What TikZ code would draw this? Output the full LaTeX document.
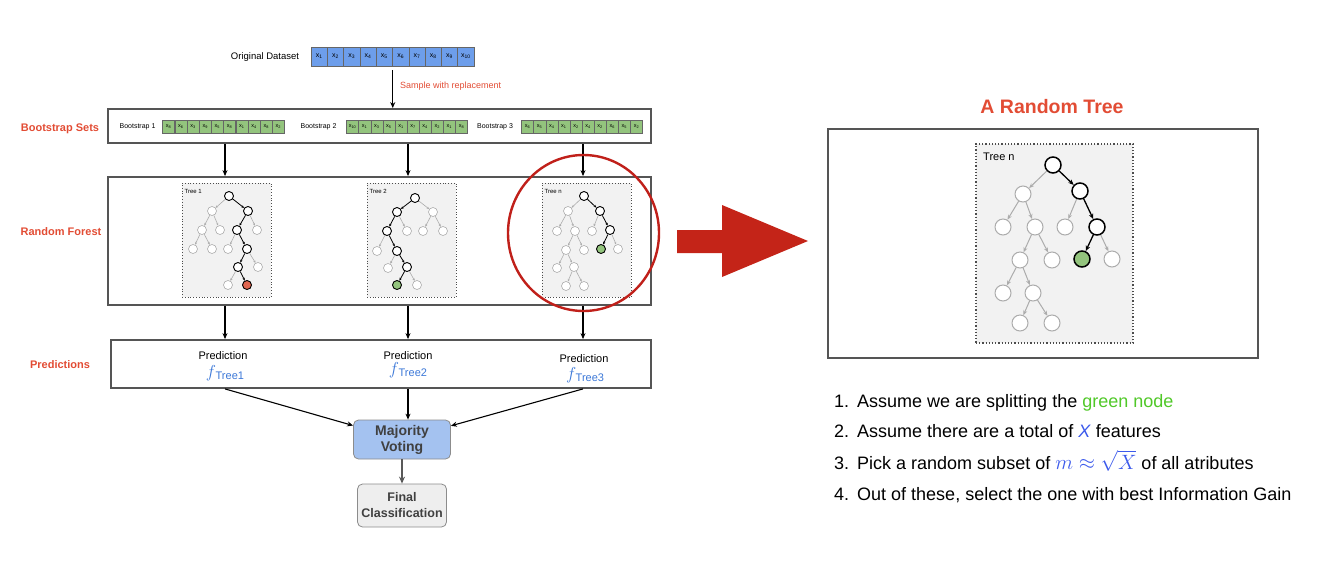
\documentclass[tikz,border=0pt]{standalone}
\usepackage{fontspec}
\setmainfont{Liberation Sans}
\usetikzlibrary{arrows.meta,shapes.geometric,calc}
\definecolor{cellblue}{RGB}{109,158,235}
\definecolor{cellgreen}{RGB}{147,196,125}
\definecolor{labred}{RGB}{226,76,52}
\definecolor{bigred}{RGB}{196,36,24}
\definecolor{ellred}{RGB}{192,32,26}
\definecolor{voteblue}{RGB}{164,194,240}
\definecolor{finalgray}{RGB}{238,238,238}
\definecolor{treebg}{RGB}{242,242,242}
\definecolor{nodegray}{RGB}{172,172,172}
\definecolor{predblue}{RGB}{60,120,216}
\definecolor{greentxt}{RGB}{80,200,40}
\definecolor{mathblue}{RGB}{60,90,235}
\definecolor{boxgray}{RGB}{85,85,85}
\definecolor{redfill}{RGB}{224,102,80}
\definecolor{greenfill}{RGB}{147,196,125}
\newcommand\myfs[1]{\fontsize{#1}{#1}\selectfont}
\begin{document}
\begin{tikzpicture}[x=1pt,y=-1pt,
  mainbox/.style={draw=boxgray, line width=1.8, fill=white, inner sep=0},
  treebox/.style={draw=black!70, dotted, line width=0.8, fill=treebg, inner sep=0},
  bluecell/.style={draw=black!60, line width=0.5, fill=cellblue, minimum width=16.3, minimum height=19, inner sep=0, font=\myfs{7}},
  greencell/.style={draw=black!60, line width=0.4, fill=cellgreen, minimum width=12.1, minimum height=13, inner sep=0, font=\myfs{5.5}},
  arr/.style={draw=black, line width=1.1, -{Stealth[length=6,width=5]}},
  sn/.style={circle, draw=nodegray, fill=white, line width=0.6, minimum size=9, inner sep=0},
  snb/.style={sn, draw=black, line width=0.9},
  bn/.style={circle, draw=nodegray, fill=white, line width=1, minimum size=16, inner sep=0},
  bnb/.style={bn, draw=black, line width=1.5},
  gs/.style={draw=nodegray, line width=0.6, -{Stealth[length=2.6,width=2.2]}},
  bs/.style={draw=black, line width=0.8, -{Stealth[length=2.8,width=2.4]}},
  gb/.style={draw=nodegray, line width=1, -{Stealth[length=5,width=4]}},
  bb/.style={draw=black, line width=1.3, -{Stealth[length=5.5,width=4.5]}},
  sidelab/.style={text=labred, font=\bfseries\myfs{11}, inner sep=0},
  predtxt/.style={font=\myfs{11}, inner sep=0},
  ftxt/.style={text=predblue, font=\myfs{11}, inner sep=0},
  li/.style={font=\myfs{18}, inner sep=0}
]
\useasboundingbox (0,0) rectangle (1328,563);

% ---------- original dataset ----------
\node[font=\myfs{9.5}, inner sep=0] (odlab) at (265,57) {Original Dataset};
\foreach \k in {1,...,10}
  \node[bluecell] (o\k) at ({311+16.3*(\k-0.5)},56.5) {x\textsubscript{\k}};

% ---------- boxes ----------
\node[mainbox, minimum width=543, minimum height=34] (boot) at (379.5,126) {};
\node[mainbox, minimum width=543, minimum height=128] (forest) at (379.5,241) {};
\node[mainbox, minimum width=540, minimum height=48] (preds) at (381,364) {};

\draw[arr] ($(o5.south east)+(0,4)$) -- (boot.north -| o5.south east);
\node[anchor=west, text=labred, font=\myfs{9}, inner sep=0] (swr) at (400,86) {Sample with replacement};

% bootstrap sets
\node[font=\myfs{7}, inner sep=0] (bl1) at (137.5,127) {Bootstrap 1};
\node[font=\myfs{7}, inner sep=0] (bl2) at (318.5,127) {Bootstrap 2};
\node[font=\myfs{7}, inner sep=0] (bl3) at (495,127) {Bootstrap 3};
\foreach \v [count=\k] in {8,6,3,9,5,8,1,4,8,2}
  \node[greencell] (ba\k) at ({162.5+12.2*(\k-0.5)},127) {x\textsubscript{\v}};
\foreach \v [count=\k] in {10,1,3,5,1,7,4,2,1,8}
  \node[greencell] (bb\k) at ({346.5+12.1*(\k-0.5)},127) {x\textsubscript{\v}};
\foreach \v [count=\k] in {6,5,4,1,2,4,2,6,5,2}
  \node[greencell] (bc\k) at ({521.5+12.1*(\k-0.5)},127) {x\textsubscript{\v}};

% side labels
\node[sidelab] (lb1) at (60,129) {Bootstrap Sets};
\node[sidelab] (lb2) at (61,232) {Random Forest};
\node[sidelab] (lb3) at (60,365) {Predictions};

% column coordinates
\coordinate (c1) at (225,0);
\coordinate (c2) at (408,0);
\coordinate (c3) at (583,0);
\foreach \c in {c1,c2,c3} {
  \draw[arr] (boot.south -| \c) -- (forest.north -| \c);
  \draw[arr] (forest.south -| \c) -- (preds.north -| \c);
}

% tree boxes
\node[treebox, minimum width=89, minimum height=114] (tb1) at (226.5,240) {};
\node[treebox, minimum width=89, minimum height=114] (tb2) at (411.5,240) {};
\node[treebox, minimum width=89, minimum height=114] (tb3) at (586.5,240) {};
\node[anchor=west, font=\myfs{6}, inner sep=0] (tl1) at (184.5,191.5) {Tree 1};
\node[anchor=west, font=\myfs{6}, inner sep=0] (tl2) at (369.5,191.5) {Tree 2};
\node[anchor=west, font=\myfs{6}, inner sep=0] (tl3) at (544.5,191.5) {Tree n};

% ---- Tree 1 ----
\node[snb] (t1r) at (229,196) {};
\node[sn]  (t1a) at (212,211) {};
\node[snb] (t1b) at (248,211) {};
\node[sn]  (t1aa) at (202,230) {};
\node[sn]  (t1ab) at (220,230) {};
\node[snb] (t1ba) at (237,230) {};
\node[sn]  (t1bb) at (257,230) {};
\node[sn]  (t1aaa) at (193,249) {};
\node[sn]  (t1aab) at (212,249) {};
\node[sn]  (t1baa) at (228,249) {};
\node[snb] (t1bab) at (247,249) {};
\node[snb] (t1baba) at (238,267) {};
\node[sn]  (t1babb) at (258,267) {};
\node[sn]  (t1babaa) at (228,285) {};
\node[snb, fill=redfill] (t1babab) at (247,285) {};
\foreach \a/\b in {t1r/t1a,t1a/t1aa,t1a/t1ab,t1b/t1bb,t1aa/t1aaa,t1aa/t1aab,t1ba/t1baa,t1bab/t1babb,t1baba/t1babaa}
  \draw[gs] (\a) -- (\b);
\foreach \a/\b in {t1r/t1b,t1b/t1ba,t1ba/t1bab,t1bab/t1baba,t1baba/t1babab}
  \draw[bs] (\a) -- (\b);

% ---- Tree 2 ----
\node[snb] (t2r) at (415,198) {};
\node[snb] (t2a) at (397,212) {};
\node[sn]  (t2b) at (433,212) {};
\node[snb] (t2aa) at (387,231) {};
\node[sn]  (t2ab) at (407,231) {};
\node[sn]  (t2ba) at (423,231) {};
\node[sn]  (t2bb) at (443,231) {};
\node[sn]  (t2aaa) at (377,251) {};
\node[snb] (t2aab) at (397,251) {};
\node[sn]  (t2aaba) at (388,268) {};
\node[snb] (t2aabb) at (407,267) {};
\node[snb, fill=greenfill] (t2aabba) at (397,285) {};
\node[sn]  (t2aabbb) at (417,285) {};
\foreach \a/\b in {t2r/t2b,t2a/t2ab,t2b/t2ba,t2b/t2bb,t2aa/t2aaa,t2aab/t2aaba,t2aabb/t2aabbb}
  \draw[gs] (\a) -- (\b);
\foreach \a/\b in {t2r/t2a,t2a/t2aa,t2aa/t2aab,t2aab/t2aabb,t2aabb/t2aabba}
  \draw[bs] (\a) -- (\b);

% ---- Tree n (small) ----
\node[snb] (t3r) at (584,196) {};
\node[sn]  (t3a) at (568,211) {};
\node[snb] (t3b) at (600,211) {};
\node[sn]  (t3aa) at (557,231) {};
\node[sn]  (t3ab) at (575,231) {};
\node[sn]  (t3ba) at (592,231) {};
\node[snb] (t3bb) at (610,230) {};
\node[sn]  (t3aba) at (566,250) {};
\node[sn]  (t3abb) at (584,250) {};
\node[snb, fill=greenfill] (t3bba) at (601,249) {};
\node[sn]  (t3bbb) at (618,249) {};
\node[sn]  (t3abaa) at (557,268) {};
\node[sn]  (t3abab) at (574,267) {};
\node[sn]  (t3ababa) at (566,286) {};
\node[sn]  (t3ababb) at (584,286) {};
\foreach \a/\b in {t3r/t3a,t3a/t3aa,t3a/t3ab,t3b/t3ba,t3ab/t3aba,t3ab/t3abb,t3bb/t3bbb,t3aba/t3abaa,t3aba/t3abab,t3abab/t3ababa,t3abab/t3ababb}
  \draw[gs] (\a) -- (\b);
\foreach \a/\b in {t3r/t3b,t3b/t3bb,t3bb/t3bba}
  \draw[bs] (\a) -- (\b);

% red ellipse
\node[ellipse, draw=ellred, line width=2.4, minimum width=151, minimum height=156, inner sep=0] (ell) at (583.5,233) {};

% predictions
\node[predtxt] (p1) at (223,356) {Prediction};
\node[ftxt] (f1) at (225,373) {{\myfs{17}$f$}\kern-0.5pt\raisebox{-2pt}{Tree1}};
\node[predtxt] (p2) at (408,356) {Prediction};
\node[ftxt] (f2) at (408,370) {{\myfs{17}$f$}\kern-0.5pt\raisebox{-2pt}{Tree2}};
\node[predtxt] (p3) at (584,359) {Prediction};
\node[ftxt] (f3) at (585,375) {{\myfs{17}$f$}\kern-0.5pt\raisebox{-2pt}{Tree3}};

% voting
\node[draw=black!45, line width=0.8, fill=voteblue, rounded corners=5, minimum width=97, minimum height=39, align=center, text=black!75, font=\bfseries\fontsize{14}{16}\selectfont, inner sep=0] (vote) at (402,439.5) {Majority\\Voting};
\node[draw=black!45, line width=0.8, fill=finalgray, rounded corners=5, minimum width=89, minimum height=43, align=center, text=black!75, font=\bfseries\fontsize{12.5}{16}\selectfont, inner sep=0] (final) at (402,505.5) {Final\\Classification};
\draw[arr] (preds.south -| c1) -- (vote);
\draw[arr] (preds.south -| c3) -- (vote);
\draw[arr] (preds.south -| c2) -- (vote.north -| c2);
\draw[draw=black!65, line width=2, -{Stealth[length=7,width=6]}] (vote.south) -- (final.north);

% big red arrow
\draw[fill=bigred, draw=none] (677,230) -- (722,230) -- (722,205) -- (808,241) -- (722,277) -- (722,253) -- (677,253) -- cycle;

% ---------- right panel ----------
\node[text=labred, font=\bfseries\myfs{19.5}, inner sep=0] (title) at (1052,107) {A Random Tree};
\node[mainbox, minimum width=430, minimum height=229] (bigbox) at (1043,243.5) {};
\node[treebox, line width=1.2, minimum width=157, minimum height=199] (btb) at (1054.5,243.5) {};
\node[anchor=west, font=\myfs{11}, inner sep=0] (btl) at (983,157) {Tree n};

\node[bnb] (br) at (1053,165) {};
\node[bn]  (ba) at (1023,194) {};
\node[bnb] (bb) at (1080,191) {};
\node[bn]  (baa) at (1003,227) {};
\node[bn]  (bab) at (1035,227) {};
\node[bn]  (bba) at (1065,227) {};
\node[bnb] (bbb) at (1097,227) {};
\node[bn]  (baba) at (1020,260) {};
\node[bn]  (babb) at (1052,260) {};
\node[bnb, fill=greenfill] (bbba) at (1082,259) {};
\node[bn]  (bbbb) at (1112,259) {};
\node[bn]  (babaa) at (1003,293) {};
\node[bn]  (babab) at (1033,293) {};
\node[bn]  (bababa) at (1020,323) {};
\node[bn]  (bababb) at (1052,323) {};
\foreach \a/\b in {br/ba,ba/baa,ba/bab,bb/bba,bab/baba,bab/babb,bbb/bbbb,baba/babaa,baba/babab,babab/bababa,babab/bababb}
  \draw[gb] (\a) -- (\b);
\foreach \a/\b in {br/bb,bb/bbb,bbb/bbba}
  \draw[bb] (\a) -- (\b);

% list
\node[li, anchor=base west] (n1) at (834,407) {1.};
\node[li, anchor=base west] (l1) at (857,407) {Assume we are splitting the {\color{greentxt}green node}};
\node[li, anchor=base west] (n2) at (834,437) {2.};
\node[li, anchor=base west] (l2) at (857,437) {Assume there are a total of {\color{mathblue}\textit{X}} features};
\node[li, anchor=base west] (n3) at (834,469) {3.};
\node[li, anchor=base west] (l3) at (857,469) {Pick a random subset of {\color{mathblue}\myfs{20}$\smash{m\approx\sqrt{X}}$} of all atributes};
\node[li, anchor=base west] (n4) at (834,500) {4.};
\node[li, anchor=base west] (l4) at (857,500) {Out of these, select the one with best Information Gain};
\end{tikzpicture}
\end{document}
